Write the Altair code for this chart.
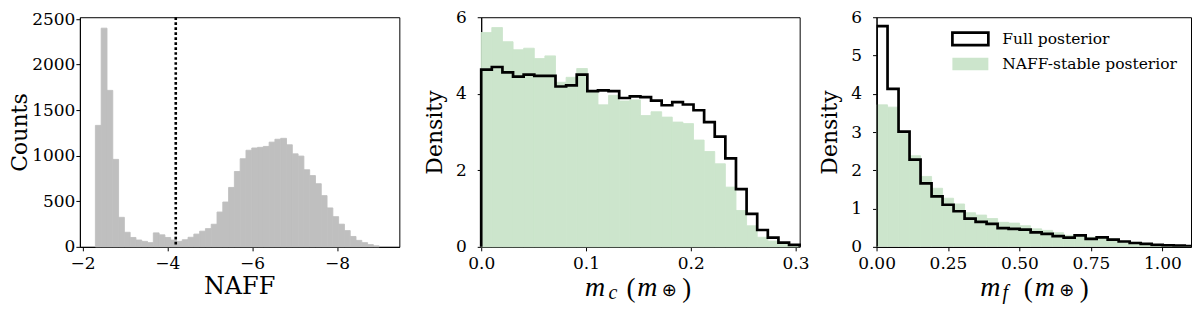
import altair as alt
import pandas as pd

# ---------------- data ----------------
naff_first_edge = -2.306
naff_bin_width = 0.1365
naff_counts = [1333, 2400, 1717, 960, 324, 160, 103, 75, 60, 46,
               153, 132, 103, 75, 60, 78, 105, 140, 172, 200,
               248, 382, 492, 652, 827, 967, 1060, 1085, 1092, 1102,
               1149, 1181, 1191, 1120, 1021, 996, 846, 782, 693, 562,
               427, 331, 249, 178, 114, 71, 46, 25, 11]
naff_threshold = [-4.2]
naff_ticks = [-2, -4, -6, -8]
naff_domain = [-9.47, -1.94]
count_ticks = [0, 500, 1000, 1500, 2000, 2500]

mc_bin_width = 0.304 / 30
mc_full = [4.63, 4.70, 4.56, 4.45, 4.50, 4.47, 4.47, 4.19, 4.22, 4.50,
           4.07, 4.09, 4.07, 3.89, 3.93, 3.91, 3.82, 3.70, 3.78, 3.72,
           3.57, 3.26, 2.88, 2.31, 1.51, 0.86, 0.44, 0.24, 0.11, 0.05]
mc_stable = [5.60, 5.73, 5.36, 5.15, 5.19, 4.92, 4.99, 4.30, 4.43, 4.66,
             4.04, 3.71, 3.96, 3.81, 3.84, 3.43, 3.53, 3.39, 3.26, 3.22,
             2.79, 2.49, 2.17, 1.56, 0.95, 0.55, 0.25, 0.15, 0.06, 0.02]
mc_ticks = [0.0, 0.1, 0.2, 0.3]
mc_domain = [0, 0.304]
mc_density_ticks = [0, 2, 4, 6]

mf_bin_width = 0.0385
mf_full = [5.77, 4.13, 3.01, 2.28, 1.66, 1.32, 1.10, 0.93, 0.74, 0.65,
           0.60, 0.49, 0.47, 0.45, 0.38, 0.34, 0.28, 0.24, 0.30, 0.21,
           0.25, 0.19, 0.14, 0.10, 0.08, 0.05, 0.04, 0.03, 0.02]
mf_stable = [3.71, 3.65, 2.97, 2.38, 1.84, 1.53, 1.27, 1.12, 0.89, 0.83,
             0.74, 0.64, 0.62, 0.55, 0.47, 0.43, 0.37, 0.30, 0.28, 0.25,
             0.26, 0.21, 0.15, 0.12, 0.08, 0.06, 0.04, 0.03, 0.02]
mf_ticks = [0, 0.25, 0.5, 0.75, 1.0]
mf_domain = [0, 1.10]
mf_density_ticks = [0, 1, 2, 3, 4, 5, 6]

legend_labels = ["Full posterior", "NAFF-stable posterior"]

# ---------------- style ----------------
W1, W2, W3, H = 320, 319, 315, 230
GRAY = "#bfbfbf"
GREEN = "#cce5cc"
SERIF = "DejaVu Serif"
MATH = "Liberation Serif"


def bars_df(first, width, vals, sign=1):
    n = len(vals)
    return pd.DataFrame({
        "x0": [first + sign * i * width for i in range(n)],
        "x1": [first + sign * (i + 1) * width for i in range(n)],
        "v": vals,
    })


def step_df(first, width, vals, sign=1):
    n = len(vals)
    xs = [first] + [first + sign * i * width for i in range(n)] + [first + sign * n * width]
    ys = [0] + list(vals) + [0]
    return pd.DataFrame({"x": xs, "y": ys, "o": list(range(len(xs)))})


def one():
    return alt.Data(values=[{}])


def txt(s, x, y, size, font=SERIF, style="normal", align="center", baseline="alphabetic"):
    return alt.Chart(one()).mark_text(
        text=s, font=font, fontSize=size, fontStyle=style, align=align,
        baseline=baseline, color="black"
    ).encode(x=alt.value(x), y=alt.value(y))


def math_title(sub, centers):
    cm, cs, cl, cm2, co, cr = centers
    return [
        txt("m", cm, H + 49, 28, MATH, "italic"),
        txt(sub, cs, H + 52, 20, MATH, "italic"),
        txt("(", cl, H + 50, 27, MATH),
        txt("m", cm2, H + 49, 28, MATH, "italic"),
        txt("\u2295", co, H + 44, 18, "DejaVu Sans", baseline="middle"),
        txt(")", cr, H + 50, 27, MATH),
    ]


def xaxis(vals, fmt):
    return alt.Axis(values=vals, title=None, format=fmt, labelPadding=5, labelFlush=False)


def yaxis(vals, title, lp, tp, fmt):
    return alt.Axis(values=vals, title=title, labelPadding=lp, titlePadding=tp, format=fmt,
                    labelFlush=False)


def fill_layer(df, color, xs, xa, ys, ya, clip=False):
    return alt.Chart(df).mark_rect(
        color=color, stroke=color, strokeWidth=0.9, clip=clip
    ).encode(
        x=alt.X("x0:Q", scale=xs, axis=xa),
        x2="x1:Q",
        y=alt.Y("v:Q", scale=ys, axis=ya),
        y2=alt.datum(0),
    )


def line_layer(df, xs, xa, ys, ya, clip=False):
    return alt.Chart(df).mark_line(
        color="black", strokeWidth=2.7, interpolate="step-after", strokeJoin="miter", clip=clip
    ).encode(
        x=alt.X("x:Q", scale=xs, axis=xa),
        y=alt.Y("y:Q", scale=ys, axis=ya),
        order="o:Q",
    )


# ---------------- left panel ----------------
lx_scale = alt.Scale(domain=naff_domain, reverse=True, nice=False, zero=False)
lx_axis = xaxis(naff_ticks, "d")
ly_scale = alt.Scale(domain=[0, 2520], nice=False)
ly_axis = yaxis(count_ticks, "Counts", 1, 0, "d")

left_fill = fill_layer(bars_df(naff_first_edge, naff_bin_width, naff_counts, -1), GRAY,
                       lx_scale, lx_axis, ly_scale, ly_axis)
left_rule = alt.Chart(pd.DataFrame({"t": naff_threshold})).mark_rule(
    color="black", strokeWidth=2.6, strokeDash=[2.7, 2.3]
).encode(x=alt.X("t:Q", scale=lx_scale, axis=lx_axis))
left = alt.layer(left_fill, left_rule, txt("NAFF", W1 / 2, H + 47, 24)).properties(width=W1, height=H)

# ---------------- middle panel ----------------
mx_scale = alt.Scale(domain=mc_domain, nice=False, zero=False)
mx_axis = xaxis(mc_ticks, ".1f")
my_scale = alt.Scale(domain=[0, 6], nice=False)
my_axis = yaxis(mc_density_ticks, "Density", 11, 9, "d")

middle = alt.layer(
    fill_layer(bars_df(0, mc_bin_width, mc_stable), GREEN, mx_scale, mx_axis, my_scale, my_axis),
    line_layer(step_df(0, mc_bin_width, mc_full), mx_scale, mx_axis, my_scale, my_axis),
    *math_title("c", [114, 132, 150, 166.5, 188.5, 206]),
).properties(width=W2, height=H)

# ---------------- right panel ----------------
rx_scale = alt.Scale(domain=mf_domain, nice=False, zero=False)
rx_axis = xaxis(mf_ticks, ".2f")
ry_scale = alt.Scale(domain=[0, 6], nice=False)
ry_axis = yaxis(mf_density_ticks, "Density", 11, 9, "d")

leg_box1 = alt.Chart(one()).mark_rect(fill="white", stroke="black", strokeWidth=2.7).encode(
    x=alt.value(76), x2=alt.value(112), y=alt.value(15.5), y2=alt.value(28))
leg_box2 = alt.Chart(one()).mark_rect(fill=GREEN).encode(
    x=alt.value(76), x2=alt.value(112), y=alt.value(40.5), y2=alt.value(53))
right = alt.layer(
    fill_layer(bars_df(0, mf_bin_width, mf_stable), GREEN, rx_scale, rx_axis, ry_scale, ry_axis, True),
    line_layer(step_df(0, mf_bin_width, mf_full), rx_scale, rx_axis, ry_scale, ry_axis, True),
    leg_box1, leg_box2,
    txt(legend_labels[0], 126, 22, 15.5, align="left", baseline="middle"),
    txt(legend_labels[1], 126, 47, 15.5, align="left", baseline="middle"),
    *math_title("f", [114, 129, 152, 168.5, 190.5, 208]),
).properties(width=W3, height=H)

inner = alt.hconcat(left, middle, spacing=22)
chart = alt.hconcat(inner, right, spacing=8).properties(
    padding={"left": 0, "top": -1, "right": 0, "bottom": 0}
).configure_view(stroke="black", strokeWidth=1).configure_axis(
    domainColor="black", tickColor="black", labelColor="black", titleColor="black",
    labelFont=SERIF, labelFontSize=17, titleFont=SERIF, titleFontSize=22,
    titleFontWeight="normal", tickSize=4, grid=False, domainWidth=1, tickWidth=1,
)

chart.save("out.html", embed_options={"renderer": "svg", "actions": False})
